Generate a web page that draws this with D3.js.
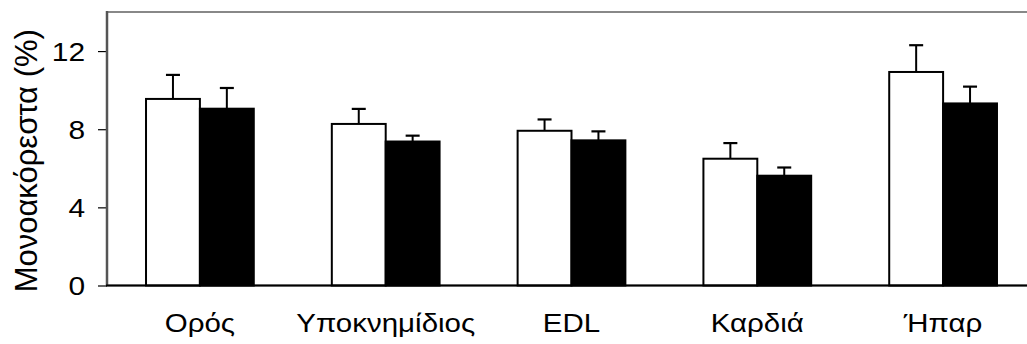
<!DOCTYPE html>
<html>
<head>
<meta charset="utf-8">
<script src="https://cdn.jsdelivr.net/npm/d3@7"></script>
<style>
  html, body { margin: 0; padding: 0; background: #fff; }
  svg { display: block; font-family: "Liberation Sans", Arial, sans-serif; }
</style>
</head>
<body>
<svg id="chart" width="1027" height="344"></svg>
<script>
const categories = ["Ορός", "Υποκνημίδιος", "EDL", "Καρδιά", "Ήπαρ"];
const seriesNames = ["white", "black"];
const whiteValues = [9.55, 8.27, 7.92, 6.49, 10.93];
const whiteErrors = [1.23, 0.77, 0.58, 0.80, 1.37];
const blackValues = [9.05, 7.37, 7.43, 5.62, 9.32];
const blackErrors = [1.06, 0.30, 0.46, 0.42, 0.86];
const yTicks = [0, 4, 8, 12];
const yLabel = "Μονοακόρεστα (%)";

const svg = d3.select("#chart");
const margin = { left: 107, top: 12, right: -9, bottom: 58.5 };
const W = 1027, H = 344;
const x0 = margin.left, x1 = W - margin.right;
const yTop = margin.top, yBot = H - margin.bottom;
const FONT = "Liberation Sans, Arial, sans-serif";

const x = d3.scaleBand().domain(categories).range([x0, x1])
  .paddingInner(0.42).paddingOuter(0.21);
const xs = d3.scaleBand().domain(seriesNames).range([0, x.bandwidth()]);
const y = d3.scaleLinear().domain([0, 14]).range([yBot, yTop]);

const data = categories.map((c, i) => ({
  cat: c,
  vals: [
    { s: "white", v: whiteValues[i], e: whiteErrors[i], fill: "#ffffff" },
    { s: "black", v: blackValues[i], e: blackErrors[i], fill: "#000000" }
  ]
}));

// frame (top / right) in gray
svg.append("rect")
  .attr("x", x0).attr("y", yTop)
  .attr("width", x1 - x0).attr("height", yBot - yTop)
  .attr("fill", "none").attr("stroke", "#888").attr("stroke-width", 2);

const groups = svg.selectAll("g.cat").data(data).join("g")
  .attr("class", "cat")
  .attr("transform", d => `translate(${x(d.cat)},0)`);

// error bars
groups.selectAll("g.err").data(d => d.vals).join("g").attr("class", "err")
  .each(function(d) {
    const g = d3.select(this);
    const cx = xs(d.s) + xs.bandwidth() / 2;
    g.append("line").attr("x1", cx).attr("x2", cx)
      .attr("y1", y(d.v)).attr("y2", y(d.v + d.e))
      .attr("stroke", "#000").attr("stroke-width", 2);
    g.append("line").attr("x1", cx - 7).attr("x2", cx + 7)
      .attr("y1", y(d.v + d.e)).attr("y2", y(d.v + d.e))
      .attr("stroke", "#000").attr("stroke-width", 2.2);
  });

groups.selectAll("rect.bar").data(d => d.vals).join("rect").attr("class", "bar")
  .attr("x", d => xs(d.s))
  .attr("width", xs.bandwidth())
  .attr("y", d => y(d.v))
  .attr("height", d => y(0) - y(d.v))
  .attr("fill", d => d.fill)
  .attr("stroke", "#000").attr("stroke-width", 2);

// y axis
const tickScale = 1.15;
const yAxis = d3.axisLeft(y).tickValues(yTicks).tickSize(9).tickPadding(13)
  .tickFormat(d3.format("d"));
const gy = svg.append("g").attr("transform", `translate(${x0},0)`).call(yAxis);
gy.select(".domain").remove();
gy.selectAll(".tick line").attr("stroke", "#000").attr("stroke-width", 1.2);
gy.selectAll(".tick text").attr("font-size", 26).attr("fill", "#000")
  .attr("font-family", FONT)
  .attr("x", -22 / tickScale)
  .attr("dy", "0.36em")
  .attr("transform", `scale(${tickScale},1)`);

svg.append("line").attr("x1", x0).attr("x2", x0)
  .attr("y1", yTop - 1).attr("y2", yBot)
  .attr("stroke", "#555").attr("stroke-width", 2.5);

// baseline
svg.append("line").attr("x1", x0 - 1).attr("x2", W)
  .attr("y1", y(0)).attr("y2", y(0))
  .attr("stroke", "#000").attr("stroke-width", 2);

// x axis labels
const xAxis = d3.axisBottom(x).tickSize(0).tickPadding(0);
const gx = svg.append("g").attr("transform", `translate(0,${yBot})`).call(xAxis);
gx.select(".domain").remove();
gx.selectAll(".tick text").attr("font-size", 25).attr("fill", "#000")
  .attr("dy", 0).attr("y", 47)
  .attr("font-family", FONT)
  .attr("transform", "scale(1.18,1)");

// y label
svg.append("text")
  .attr("transform", `translate(37,${(yTop + yBot) / 2 + 12}) rotate(-90)`)
  .attr("text-anchor", "middle")
  .attr("font-size", 31)
  .attr("font-family", FONT)
  .attr("fill", "#000")
  .text(yLabel);
</script>
</body>
</html>
